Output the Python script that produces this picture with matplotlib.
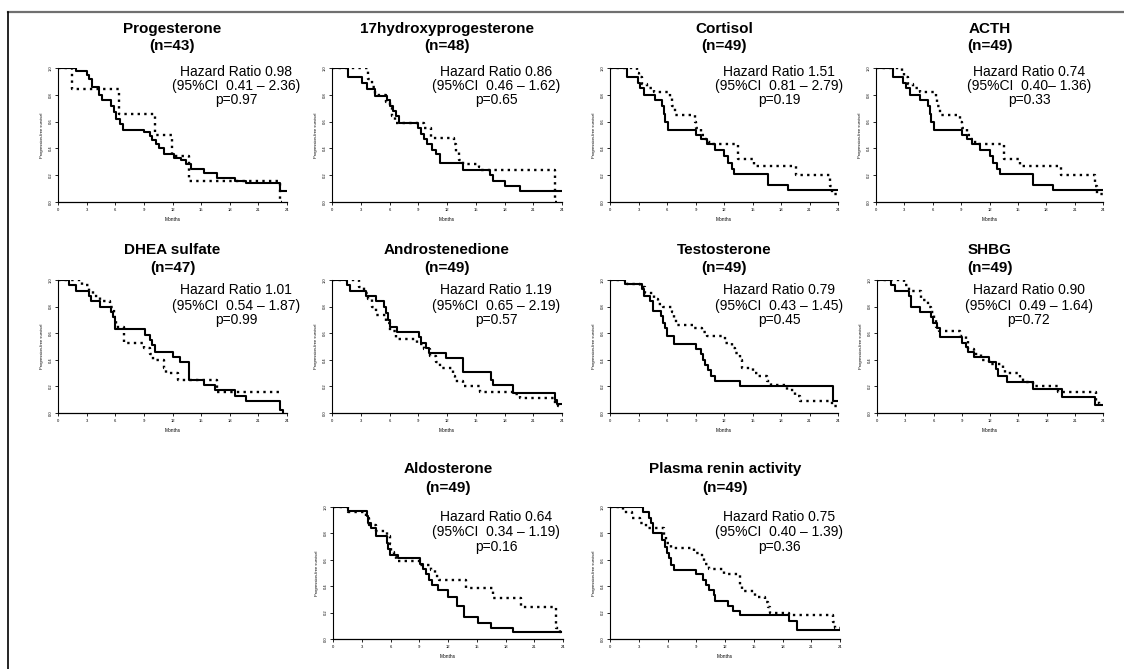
import matplotlib
matplotlib.use("Agg")
import matplotlib.pyplot as plt
from matplotlib.lines import Line2D

plt.rcParams['font.family'] = ['Liberation Sans', 'DejaVu Sans']

# panel titles and stats
names = ['Progesterone', '17hydroxyprogesterone', 'Cortisol', 'ACTH',
         'DHEA sulfate', 'Androstenedione', 'Testosterone', 'SHBG',
         'Aldosterone', 'Plasma renin activity']
n_counts = [43, 48, 49, 49, 47, 49, 49, 49, 49, 49]
hr_lines = ['Hazard Ratio 0.98', 'Hazard Ratio 0.86', 'Hazard Ratio 1.51', 'Hazard Ratio 0.74',
            'Hazard Ratio 1.01', 'Hazard Ratio 1.19', 'Hazard Ratio 0.79', 'Hazard Ratio 0.90',
            'Hazard Ratio 0.64', 'Hazard Ratio 0.75']
ci_lines = ['(95%CI  0.41 \u2013 2.36)', '(95%CI  0.46 \u2013 1.62)', '(95%CI  0.81 \u2013 2.79)',
            '(95%CI  0.40\u2013 1.36)', '(95%CI  0.54 \u2013 1.87)', '(95%CI  0.65 \u2013 2.19)',
            '(95%CI  0.43 \u2013 1.45)', '(95%CI  0.49 \u2013 1.64)', '(95%CI  0.34 \u2013 1.19)',
            '(95%CI  0.40 \u2013 1.39)']
p_lines = ['p=0.97', 'p=0.65', 'p=0.19', 'p=0.33', 'p=0.99',
           'p=0.57', 'p=0.45', 'p=0.72', 'p=0.16', 'p=0.36']

x_ticks = [0, 3, 6, 9, 12, 15, 18, 21, 24]
y_ticks = [0.0, 0.2, 0.4, 0.6, 0.8, 1.0]
y_tick_labels = ['0.0', '0.2', '0.4', '0.6', '0.8', '1.0']

# Kaplan-Meier curves (time in months, survival after each step)
prog_solid_t = [0, 1.9, 3.0, 3.3, 3.6, 4.3, 4.6, 5.6, 5.9, 6.1, 6.5, 6.8, 9.0, 9.6, 9.9, 10.3, 10.6,
                11.1, 12.2, 12.9, 13.4, 13.9, 15.3, 16.7, 18.6, 19.7, 23.3, 24.0]
prog_solid_s = [1.0, 0.975, 0.95, 0.92, 0.86, 0.80, 0.76, 0.72, 0.67, 0.62, 0.58, 0.54, 0.52, 0.49, 0.46,
                0.43, 0.40, 0.36, 0.33, 0.31, 0.28, 0.25, 0.22, 0.18, 0.16, 0.14, 0.08, 0.08]
prog_dot_t = [0, 1.5, 6.4, 10.2, 11.9, 13.7, 23.3, 23.5]
prog_dot_s = [1.0, 0.84, 0.66, 0.50, 0.34, 0.16, 0.0, 0.0]

ohp_solid_t = [0, 1.7, 3.1, 3.7, 4.5, 5.7, 6.0, 6.4, 6.7, 7.0, 9.0, 9.3, 9.6, 9.9, 10.4, 10.9, 11.3,
               13.7, 16.5, 16.8, 18.1, 19.6, 24.0]
ohp_solid_s = [1.0, 0.93, 0.89, 0.84, 0.79, 0.76, 0.72, 0.68, 0.64, 0.59, 0.55, 0.51, 0.47, 0.43, 0.39,
               0.36, 0.29, 0.24, 0.20, 0.16, 0.12, 0.08, 0.08]
ohp_dot_t = [0, 3.8, 4.2, 4.5, 5.6, 6.0, 6.3, 6.6, 9.6, 10.3, 12.7, 12.9, 13.2, 13.7, 15.3, 15.5, 23.3, 23.5]
ohp_dot_s = [1.0, 0.92, 0.86, 0.80, 0.75, 0.70, 0.64, 0.59, 0.55, 0.48, 0.43, 0.37, 0.31, 0.28, 0.26,
             0.24, 0.0, 0.0]

cort_solid_t = [0, 1.75, 2.9, 3.2, 3.6, 4.7, 5.5, 5.7, 5.8, 6.1, 9.1, 9.6, 10.2, 11.0, 12.0, 12.4, 12.8,
                13.1, 16.6, 18.7, 24.0]
cort_solid_s = [1.0, 0.93, 0.89, 0.85, 0.80, 0.76, 0.72, 0.66, 0.60, 0.54, 0.50, 0.47, 0.43, 0.39, 0.34,
                0.29, 0.25, 0.21, 0.13, 0.09, 0.09]
cort_dot_t = [0, 2.8, 3.0, 3.4, 3.9, 4.6, 6.3, 6.5, 6.8, 8.9, 9.1, 9.6, 10.0, 10.3, 10.7, 13.5, 15.2, 19.6,
              23.2, 23.4, 24.0]
cort_dot_s = [1.0, 0.96, 0.93, 0.88, 0.85, 0.82, 0.78, 0.72, 0.65, 0.60, 0.55, 0.50, 0.47, 0.45, 0.43,
              0.32, 0.27, 0.20, 0.12, 0.06, 0.06]

acth_solid_t = [0, 1.75, 2.9, 3.2, 3.6, 4.7, 5.5, 5.7, 5.8, 6.1, 9.1, 9.6, 10.2, 11.0, 12.0, 12.4, 12.8,
                13.1, 16.6, 18.7, 24.0]
acth_solid_s = [1.0, 0.93, 0.89, 0.85, 0.80, 0.76, 0.72, 0.66, 0.60, 0.54, 0.50, 0.47, 0.43, 0.39, 0.34,
                0.29, 0.25, 0.21, 0.13, 0.09, 0.09]
acth_dot_t = [0, 2.8, 3.0, 3.4, 3.9, 4.6, 6.3, 6.5, 6.8, 8.9, 9.1, 9.6, 10.0, 10.3, 10.7, 13.5, 15.2, 19.6,
              23.2, 23.4, 24.0]
acth_dot_s = [1.0, 0.96, 0.93, 0.88, 0.85, 0.82, 0.78, 0.72, 0.65, 0.60, 0.55, 0.50, 0.47, 0.45, 0.43,
              0.32, 0.27, 0.20, 0.12, 0.06, 0.06]

dhea_solid_t = [0, 1.2, 1.9, 3.3, 3.5, 4.4, 5.6, 5.8, 6.0, 9.1, 9.6, 9.9, 10.2, 12.0, 12.8, 13.7, 15.3,
                16.5, 18.6, 19.7, 23.3, 23.6]
dhea_solid_s = [1.0, 0.96, 0.92, 0.88, 0.84, 0.80, 0.76, 0.72, 0.63, 0.59, 0.55, 0.51, 0.46, 0.42, 0.38,
                0.25, 0.21, 0.17, 0.13, 0.09, 0.02, 0.0]
dhea_dot_t = [0, 2.5, 3.2, 3.7, 4.4, 5.4, 5.9, 6.1, 6.9, 9.0, 9.6, 10.0, 11.1, 11.3, 12.6, 16.7, 23.6]
dhea_dot_s = [1.0, 0.96, 0.92, 0.88, 0.84, 0.80, 0.72, 0.65, 0.53, 0.49, 0.44, 0.40, 0.34, 0.30, 0.25,
              0.16, 0.16]

andro_solid_t = [0, 1.6, 1.9, 3.5, 4.6, 5.4, 5.6, 5.8, 6.0, 6.8, 9.1, 9.3, 9.8, 10.1, 11.9, 13.7, 16.6,
                 16.8, 18.9, 23.3, 23.5, 24.0]
andro_solid_s = [1.0, 0.96, 0.92, 0.88, 0.84, 0.80, 0.75, 0.70, 0.65, 0.61, 0.57, 0.53, 0.49, 0.45, 0.41,
                 0.31, 0.25, 0.21, 0.15, 0.10, 0.07, 0.07]
andro_dot_t = [0, 2.8, 3.3, 3.8, 4.2, 4.6, 5.6, 6.0, 6.7, 8.9, 9.6, 10.2, 10.9, 11.3, 12.6, 12.8, 13.7,
               15.4, 18.9, 19.6, 23.3, 23.6, 24.0]
andro_dot_s = [1.0, 0.95, 0.90, 0.86, 0.80, 0.74, 0.68, 0.62, 0.56, 0.52, 0.48, 0.43, 0.38, 0.34, 0.28,
               0.24, 0.20, 0.16, 0.14, 0.11, 0.07, 0.05, 0.05]

testo_solid_t = [0, 1.6, 3.4, 3.6, 4.2, 4.5, 5.4, 5.6, 5.8, 6.0, 6.7, 9.1, 9.6, 9.8, 10.0, 10.3, 10.6,
                 11.0, 13.7, 23.5, 24.0]
testo_solid_s = [1.0, 0.97, 0.93, 0.88, 0.84, 0.77, 0.73, 0.68, 0.64, 0.58, 0.52, 0.48, 0.44, 0.40, 0.36,
                 0.32, 0.28, 0.24, 0.20, 0.09, 0.09]
testo_dot_t = [0, 1.8, 3.2, 3.7, 4.6, 5.1, 5.6, 6.5, 6.7, 6.9, 8.8, 9.7, 10.2, 12.1, 12.8, 13.2, 13.7,
               13.9, 15.0, 15.6, 16.5, 16.9, 18.6, 19.5, 20.0, 23.4, 24.0]
testo_dot_s = [1.0, 0.97, 0.95, 0.90, 0.86, 0.82, 0.80, 0.76, 0.71, 0.66, 0.64, 0.61, 0.58, 0.53, 0.49,
               0.45, 0.40, 0.34, 0.30, 0.28, 0.24, 0.21, 0.17, 0.13, 0.09, 0.05, 0.05]

shbg_solid_t = [0, 1.5, 1.9, 3.4, 3.6, 4.6, 5.7, 5.9, 6.4, 6.7, 9.0, 9.4, 9.7, 10.3, 11.9, 12.6, 12.9,
                13.8, 16.6, 19.6, 23.2, 24.0]
shbg_solid_s = [1.0, 0.96, 0.92, 0.88, 0.80, 0.76, 0.72, 0.68, 0.64, 0.57, 0.53, 0.50, 0.46, 0.42, 0.38,
                0.33, 0.28, 0.23, 0.18, 0.12, 0.06, 0.06]
shbg_dot_t = [0, 2.9, 3.4, 4.7, 5.4, 5.7, 6.1, 6.3, 6.6, 8.8, 9.4, 9.7, 10.3, 11.0, 11.9, 13.4, 13.6,
              15.2, 15.5, 16.6, 19.2, 23.3, 23.6, 24.0]
shbg_dot_s = [1.0, 0.96, 0.92, 0.85, 0.80, 0.76, 0.70, 0.65, 0.62, 0.58, 0.54, 0.48, 0.44, 0.40, 0.37,
              0.34, 0.30, 0.26, 0.23, 0.20, 0.16, 0.09, 0.07, 0.07]

aldo_solid_t = [0, 1.6, 3.5, 3.7, 4.0, 4.5, 5.6, 5.7, 5.9, 6.8, 9.1, 9.4, 9.7, 10.0, 10.3, 11.0, 12.0,
                12.9, 13.7, 15.1, 16.5, 18.8, 23.8]
aldo_solid_s = [1.0, 0.97, 0.93, 0.88, 0.84, 0.78, 0.73, 0.68, 0.64, 0.61, 0.57, 0.53, 0.49, 0.45, 0.41,
                0.37, 0.32, 0.25, 0.17, 0.12, 0.08, 0.05, 0.05]
aldo_dot_t = [0, 1.6, 3.4, 3.8, 4.5, 5.6, 5.9, 6.1, 6.4, 6.6, 9.1, 10.2, 10.6, 11.1, 13.9, 16.7, 19.6,
              23.3, 23.7, 24.0]
aldo_dot_s = [1.0, 0.96, 0.92, 0.86, 0.82, 0.78, 0.72, 0.66, 0.62, 0.59, 0.56, 0.52, 0.48, 0.45, 0.39,
              0.31, 0.24, 0.08, 0.05, 0.05]

renin_solid_t = [0, 3.4, 4.1, 4.3, 4.5, 5.4, 5.7, 5.9, 6.2, 6.4, 6.7, 9.0, 9.7, 10.0, 10.3, 10.8, 11.0,
                 12.3, 12.8, 13.6, 18.7, 19.5, 24.0]
renin_solid_s = [1.0, 0.96, 0.92, 0.88, 0.80, 0.75, 0.70, 0.65, 0.61, 0.56, 0.52, 0.49, 0.45, 0.41, 0.37,
                 0.33, 0.29, 0.25, 0.21, 0.18, 0.14, 0.07, 0.07]
renin_dot_t = [0, 1.4, 2.3, 3.1, 3.8, 5.6, 5.8, 6.4, 8.8, 9.6, 9.8, 10.3, 11.9, 13.6, 13.8, 15.1, 16.2,
               16.5, 16.7, 18.7, 23.3, 23.5, 24.0]
renin_dot_s = [1.0, 0.96, 0.92, 0.88, 0.84, 0.78, 0.73, 0.69, 0.65, 0.61, 0.57, 0.53, 0.49, 0.41, 0.36,
               0.32, 0.28, 0.24, 0.20, 0.18, 0.13, 0.08, 0.08]

solid_curves = [(prog_solid_t, prog_solid_s), (ohp_solid_t, ohp_solid_s), (cort_solid_t, cort_solid_s),
                (acth_solid_t, acth_solid_s), (dhea_solid_t, dhea_solid_s), (andro_solid_t, andro_solid_s),
                (testo_solid_t, testo_solid_s), (shbg_solid_t, shbg_solid_s), (aldo_solid_t, aldo_solid_s),
                (renin_solid_t, renin_solid_s)]
dot_curves = [(prog_dot_t, prog_dot_s), (ohp_dot_t, ohp_dot_s), (cort_dot_t, cort_dot_s),
              (acth_dot_t, acth_dot_s), (dhea_dot_t, dhea_dot_s), (andro_dot_t, andro_dot_s),
              (testo_dot_t, testo_dot_s), (shbg_dot_t, shbg_dot_s), (aldo_dot_t, aldo_dot_s),
              (renin_dot_t, renin_dot_s)]

# layout in pixels of the 1124x669 picture
W, H = 1124, 669
# (left, right, top of y=1, bottom of y=0)
boxes = [(58, 287, 68, 202), (332, 562, 68, 202), (610, 838, 68, 202), (876, 1103, 68, 202),
         (58, 287, 280, 413), (332, 562, 280, 413), (610, 838, 280, 413), (877, 1103, 280, 413),
         (333, 563, 507, 639), (610, 840, 507, 639)]
hr_x = [236, 496, 779, 1029, 236, 496, 779, 1029, 496, 779]
# offsets from the axes top: two title lines, three stats lines
row_title = {68: (-39, -22), 280: (-30, -12), 507: (-38, -19)}
row_stats = {68: (4, 18, 32), 280: (10, 26, 40), 507: (10, 25, 40)}

fig = plt.figure(figsize=(W / 100, H / 100), dpi=100)


def fx(px):
    return px / W


def fy(py):
    return 1 - py / H


for i in range(len(names)):
    x0, x1, y0, y1 = boxes[i]
    ax = fig.add_axes([fx(x0), fy(y1), (x1 - x0) / W, (y1 - y0) / H])
    t, s = solid_curves[i]
    ax.step(t, s, where='post', color='black', lw=1.5)
    t, s = dot_curves[i]
    ax.step(t, s, where='post', color='black', lw=1.7, linestyle=(0, (1, 1.8)))
    ax.set_xlim(0, 24)
    ax.set_ylim(0, 1.0)
    ax.set_xticks(x_ticks)
    ax.set_yticks(y_ticks)
    ax.set_yticklabels(y_tick_labels, rotation=90, va='center')
    ax.tick_params(labelsize=3, length=2.5, width=0.6, pad=1.5)
    ax.spines['top'].set_visible(False)
    ax.spines['right'].set_visible(False)
    ax.spines['left'].set_linewidth(0.8)
    ax.spines['bottom'].set_linewidth(0.9)
    ax.set_xlabel('Months', fontsize=3.5, labelpad=4)
    ax.set_ylabel('Progression-free survival', fontsize=3, labelpad=3)

    cx = (x0 + x1) / 2
    t1, t2 = row_title[y0]
    fig.text(fx(cx), fy(y0 + t1), names[i], ha='center', va='center',
             fontsize=11, fontweight='bold')
    fig.text(fx(cx), fy(y0 + t2), '(n=%d)' % n_counts[i], ha='center', va='center',
             fontsize=11, fontweight='bold')
    s1, s2, s3 = row_stats[y0]
    fig.text(fx(hr_x[i]), fy(y0 + s1), hr_lines[i], ha='center', va='center', fontsize=10)
    fig.text(fx(hr_x[i]), fy(y0 + s2), ci_lines[i], ha='center', va='center', fontsize=10)
    fig.text(fx(hr_x[i]), fy(y0 + s3), p_lines[i], ha='center', va='center', fontsize=10)

# outer frame (top and left edges visible)
fig.add_artist(Line2D([fx(8), 1.0], [fy(12), fy(12)], color='#707070', lw=1.6))
fig.add_artist(Line2D([fx(8), fx(8)], [fy(12), 0.0], color='black', lw=1.2))

fig.savefig('out.png', dpi=100)
